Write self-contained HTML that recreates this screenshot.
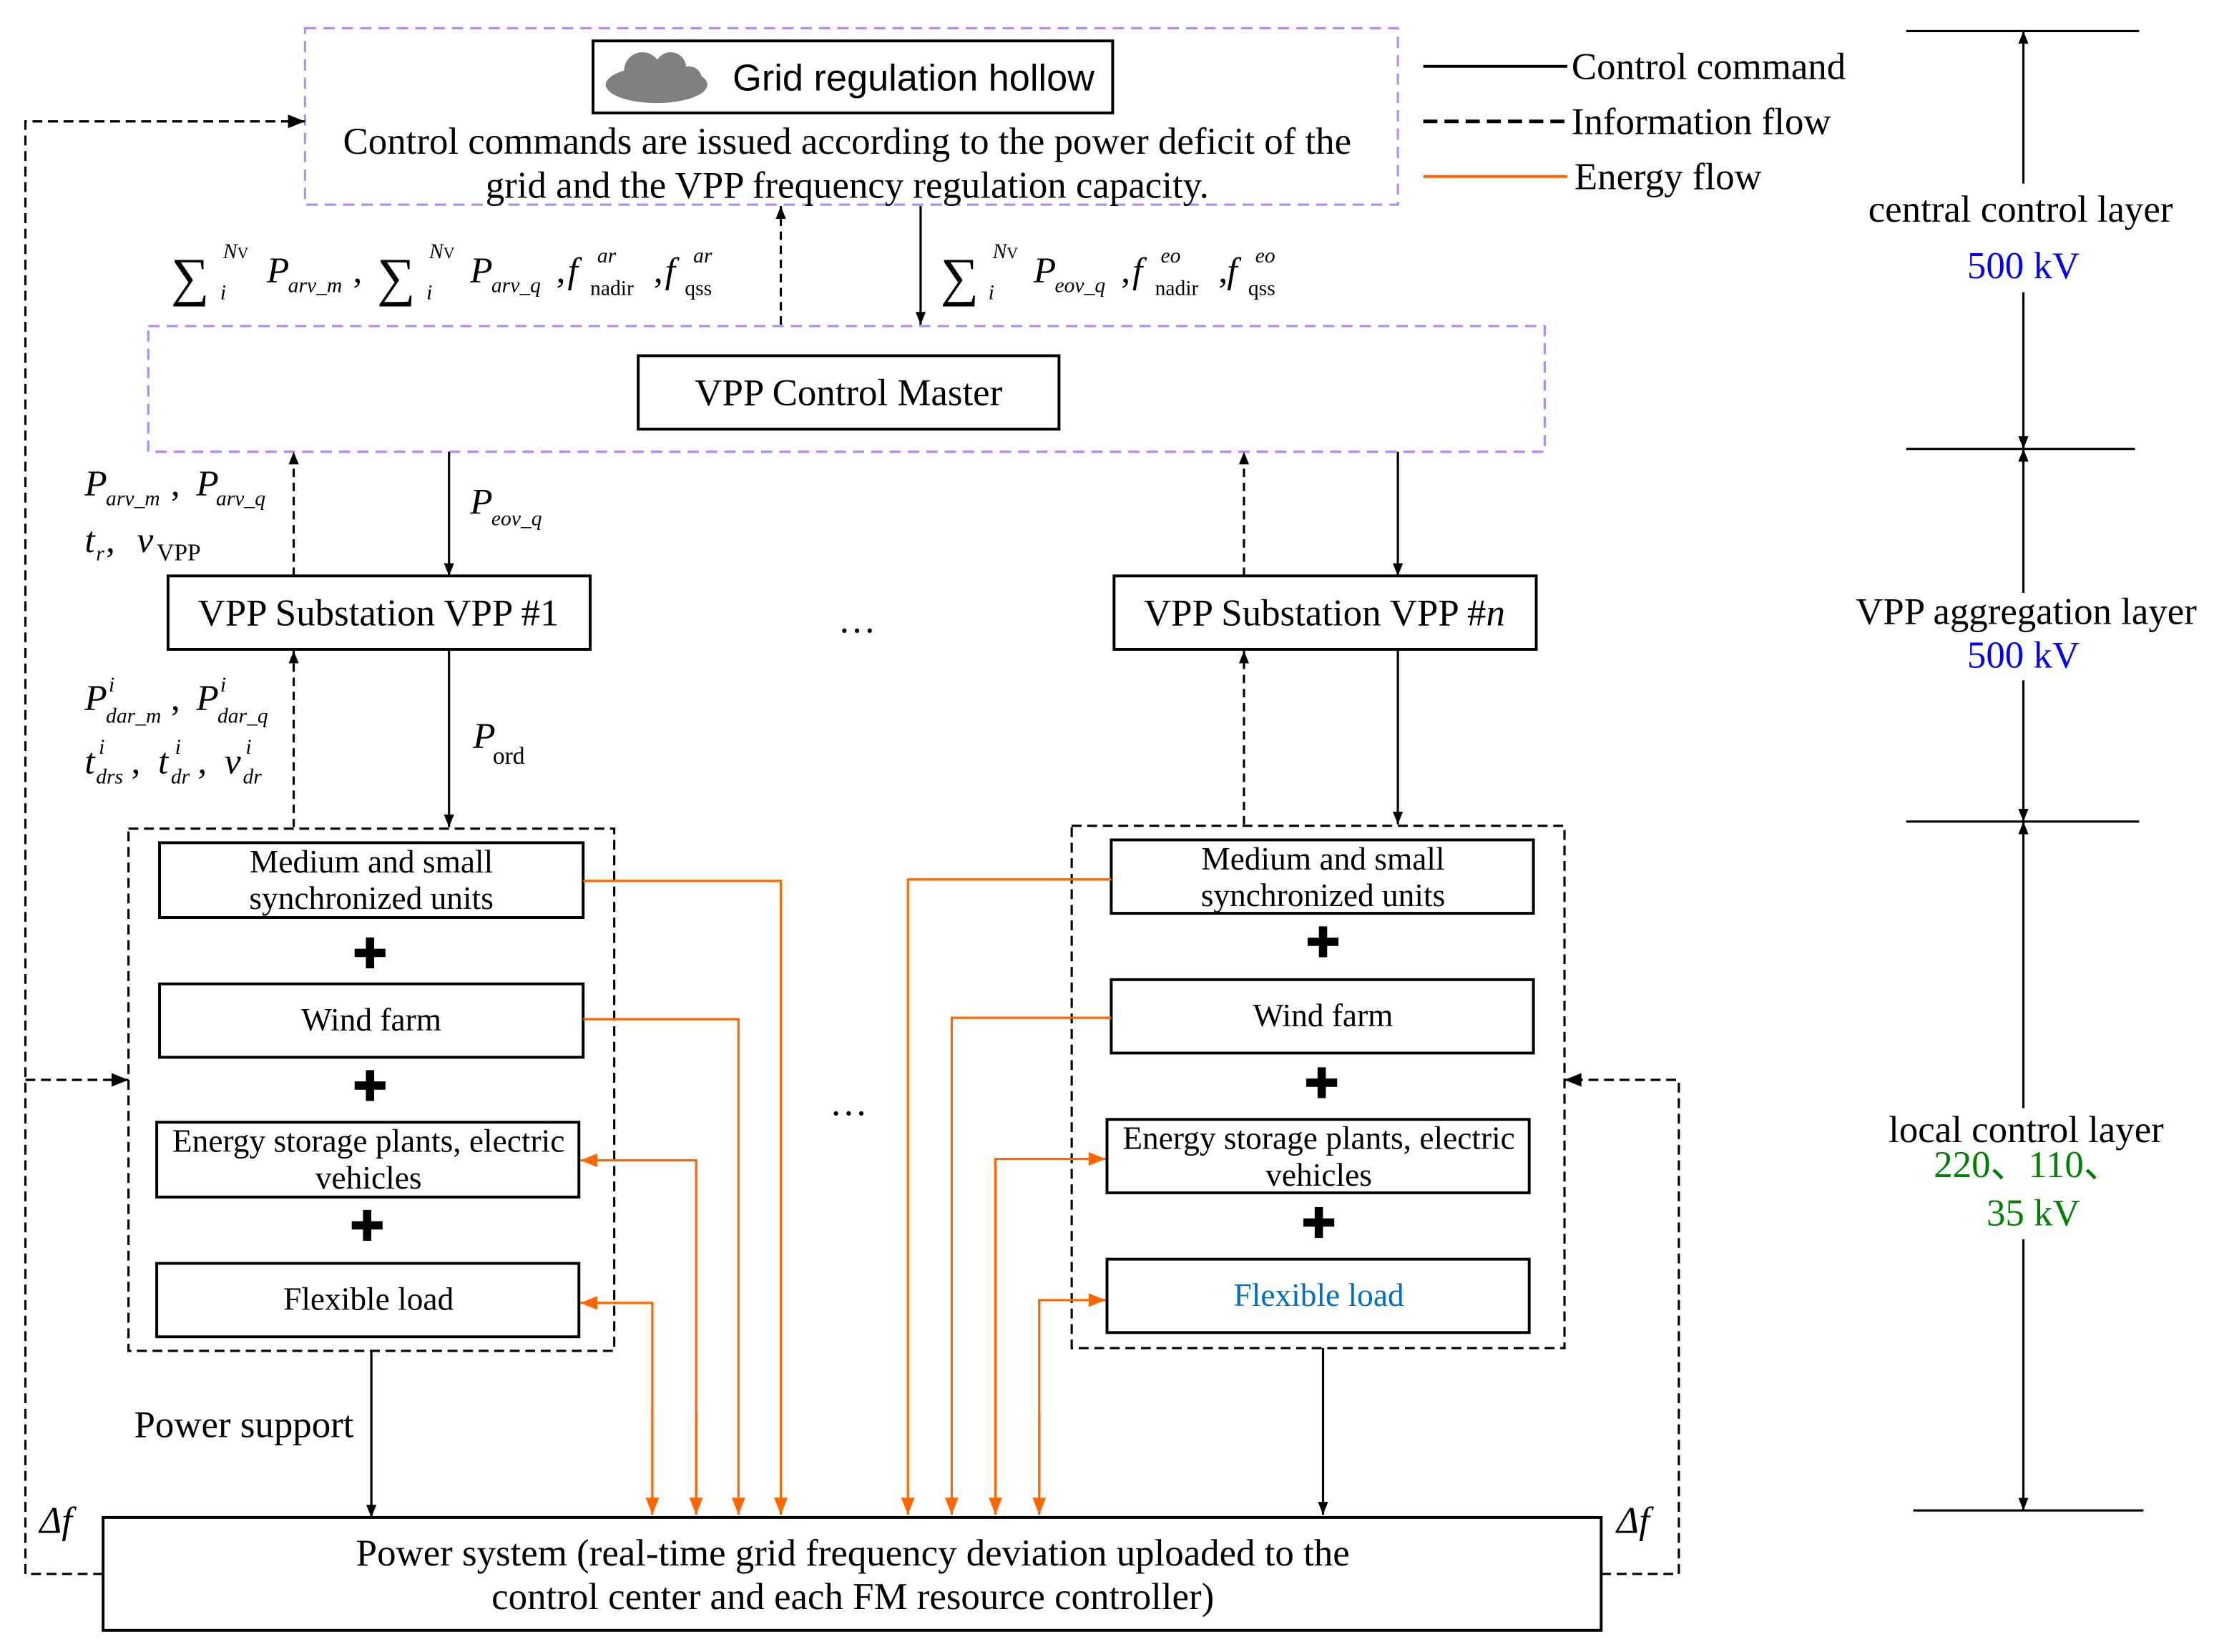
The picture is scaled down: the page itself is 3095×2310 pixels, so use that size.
<!DOCTYPE html>
<html><head><meta charset="utf-8"><style>
html,body{margin:0;padding:0;background:#fff;}
svg{display:block;}
text{font-family:"Liberation Serif","DejaVu Serif",serif;fill:#000;}
.i{font-style:italic;}
.s{font-size:15px;}
</style></head><body>
<svg width="3095" height="2310" viewBox="0 0 1568 1170.3" preserveAspectRatio="none" xmlns="http://www.w3.org/2000/svg">
<defs>
<marker id="a" viewBox="0 0 10 10" refX="10" refY="5" markerWidth="9" markerHeight="9" markerUnits="userSpaceOnUse" orient="auto"><path d="M0,1 L10,5 L0,9 z" fill="#000"/></marker>
<marker id="ab" viewBox="0 0 10 10" refX="10" refY="5" markerWidth="16" markerHeight="12" markerUnits="userSpaceOnUse" orient="auto"><path d="M0,1 L10,5 L0,9 z" fill="#000"/></marker>
<marker id="o" viewBox="0 0 10 10" refX="10" refY="5" markerWidth="14" markerHeight="12" markerUnits="userSpaceOnUse" orient="auto"><path d="M0,1 L10,5 L0,9 z" fill="#f60"/></marker>
</defs>
<g fill="none" stroke-width="1.6">
<rect x="216" y="20" width="774" height="125" stroke="#b48cf0" stroke-dasharray="8,5"/>
<rect x="105" y="231" width="989" height="89" stroke="#b48cf0" stroke-dasharray="8,5"/>
<g stroke="#000" stroke-width="2">
<rect x="420" y="29" width="368" height="51"/>
<rect x="452" y="252" width="298" height="52"/>
<rect x="119" y="408" width="299" height="52"/>
<rect x="789" y="408" width="299" height="52"/>
<rect x="113" y="597" width="300" height="53"/>
<rect x="113" y="697" width="300" height="52"/>
<rect x="111" y="795" width="299" height="53"/>
<rect x="111" y="895" width="299" height="52"/>
<rect x="787" y="595" width="299" height="52"/>
<rect x="787" y="694" width="299" height="52"/>
<rect x="784" y="793" width="299" height="52"/>
<rect x="784" y="892" width="299" height="52"/>
<rect x="73" y="1075" width="1061" height="80"/>
</g>
<g stroke="#000" stroke-dasharray="7,4">
<rect x="91" y="587" width="344" height="370"/>
<rect x="759" y="585" width="349" height="370"/>
</g>
<line x1="1008" y1="47" x2="1110" y2="47" stroke="#000" stroke-width="2"/>
<line x1="1008" y1="86" x2="1110" y2="86" stroke="#000" stroke-width="2.5" stroke-dasharray="10,5"/>
<line x1="1008" y1="125" x2="1110" y2="125" stroke="#f60" stroke-width="2"/>
<g stroke="#000" stroke-width="1.6">
<line x1="1350" y1="22" x2="1515" y2="22"/>
<line x1="1350" y1="318" x2="1512" y2="318"/>
<line x1="1350" y1="582" x2="1515" y2="582"/>
<line x1="1355" y1="1070" x2="1518" y2="1070"/>
<line x1="1433" y1="130" x2="1433" y2="22" marker-end="url(#a)"/>
<line x1="1433" y1="207" x2="1433" y2="318" marker-end="url(#a)"/>
<line x1="1433" y1="420" x2="1433" y2="318" marker-end="url(#a)"/>
<line x1="1433" y1="482" x2="1433" y2="582" marker-end="url(#a)"/>
<line x1="1433" y1="785" x2="1433" y2="582" marker-end="url(#a)"/>
<line x1="1433" y1="878" x2="1433" y2="1070" marker-end="url(#a)"/>
</g>
<g stroke="#000" stroke-width="1.6">
<line x1="553" y1="230" x2="553" y2="146" stroke-dasharray="6,4" marker-end="url(#a)"/>
<line x1="652" y1="146" x2="652" y2="230" marker-end="url(#a)"/>
<line x1="208" y1="408" x2="208" y2="320" stroke-dasharray="6,4" marker-end="url(#a)"/>
<line x1="318" y1="320" x2="318" y2="408" marker-end="url(#a)"/>
<line x1="881" y1="408" x2="881" y2="320" stroke-dasharray="6,4" marker-end="url(#a)"/>
<line x1="990" y1="320" x2="990" y2="408" marker-end="url(#a)"/>
<line x1="208" y1="586" x2="208" y2="461" stroke-dasharray="6,4" marker-end="url(#a)"/>
<line x1="318" y1="460" x2="318" y2="586" marker-end="url(#a)"/>
<line x1="881" y1="584" x2="881" y2="461" stroke-dasharray="6,4" marker-end="url(#a)"/>
<line x1="990" y1="460" x2="990" y2="584" marker-end="url(#a)"/>
<line x1="263" y1="957" x2="263" y2="1075" marker-end="url(#a)"/>
<line x1="937" y1="955" x2="937" y2="1073" marker-end="url(#a)"/>
<polyline points="73,1115 18,1115 18,86 216,86" stroke-dasharray="7,4" marker-end="url(#ab)"/>
<polyline points="18,765 91,765" stroke-dasharray="7,4" marker-end="url(#ab)"/>
<polyline points="1134,1115 1189,1115 1189,765 1108,765" stroke-dasharray="7,4" marker-end="url(#ab)"/>
</g>
<g stroke="#f60" stroke-width="1.6">
<polyline points="413,624 553,624 553,1073" marker-end="url(#o)"/>
<polyline points="413,722 523,722 523,1073" marker-end="url(#o)"/>
<polyline points="493,1073 493,822 411,822" marker-end="url(#o)"/>
<line x1="493" y1="1000" x2="493" y2="1073" marker-end="url(#o)"/>
<polyline points="462,1073 462,923 411,923" marker-end="url(#o)"/>
<line x1="462" y1="1000" x2="462" y2="1073" marker-end="url(#o)"/>
<polyline points="787,623 643,623 643,1073" marker-end="url(#o)"/>
<polyline points="787,721 674,721 674,1073" marker-end="url(#o)"/>
<polyline points="705,1073 705,821 783,821" marker-end="url(#o)"/>
<line x1="705" y1="1000" x2="705" y2="1073" marker-end="url(#o)"/>
<polyline points="736,1073 736,921 783,921" marker-end="url(#o)"/>
<line x1="736" y1="1000" x2="736" y2="1073" marker-end="url(#o)"/>
</g>
</g>
<g fill="#808080"><ellipse cx="465" cy="60" rx="36" ry="13"/><circle cx="455" cy="50" r="13"/><circle cx="475" cy="48" r="11"/><circle cx="488" cy="56" r="9"/></g>
<g font-size="30" text-anchor="middle">
<text x="262" y="686" style="font-family:'DejaVu Sans'">✚</text>
<text x="262" y="780" style="font-family:'DejaVu Sans'">✚</text>
<text x="260" y="879" style="font-family:'DejaVu Sans'">✚</text>
<text x="937" y="678" style="font-family:'DejaVu Sans'">✚</text>
<text x="936" y="778" style="font-family:'DejaVu Sans'">✚</text>
<text x="934" y="877" style="font-family:'DejaVu Sans'">✚</text>
</g>
<text x="647" y="64" font-size="26.5" text-anchor="middle" style="font-family:'Liberation Sans',sans-serif">Grid regulation hollow</text>
<g font-size="26.8" text-anchor="middle">
<text x="600" y="109">Control commands are issued according to the power deficit of the</text>
<text x="600" y="140">grid and the VPP frequency regulation capacity.</text>
<text x="601" y="287">VPP Control Master</text>
<text x="268" y="443">VPP Substation VPP #1</text>
<text x="938" y="443">VPP Substation VPP #<tspan class="i">n</tspan></text>
<text x="604" y="1109">Power system (real-time grid frequency deviation uploaded to the</text>
<text x="604" y="1140">control center and each FM resource controller)</text>
<text x="1431" y="157">central control layer</text>
<text x="1433" y="197" style="fill:#00f">500  kV</text>
<text x="1435" y="442">VPP aggregation layer</text>
<text x="1433" y="473" style="fill:#00f">500  kV</text>
<text x="1435" y="809">local control layer</text>
<text x="1436" y="834" style="fill:#008000">220、110、</text>
<text x="1440" y="868" style="fill:#008000">35  kV</text>
<text x="607" y="448">…</text>
<text x="601" y="790">…</text>
</g>
<g font-size="26.8">
<text x="1113" y="56">Control command</text>
<text x="1113" y="95">Information flow</text>
<text x="1115" y="134">Energy flow</text>
<text x="95" y="1018">Power support</text>
<text x="28" y="1086" class="i">Δf</text>
<text x="1145" y="1086" class="i">Δf</text>
</g>
<g font-size="23" text-anchor="middle">
<text x="263" y="618">Medium and small</text>
<text x="263" y="644">synchronized units</text>
<text x="263" y="730">Wind farm</text>
<text x="261" y="816">Energy storage plants, electric</text>
<text x="261" y="842">vehicles</text>
<text x="261" y="928">Flexible load</text>
<text x="937" y="616">Medium and small</text>
<text x="937" y="642">synchronized units</text>
<text x="937" y="727">Wind farm</text>
<text x="934" y="814">Energy storage plants, electric</text>
<text x="934" y="840">vehicles</text>
<text x="934" y="925" style="fill:#0070c0">Flexible load</text>
</g>
<g font-size="26">
<text x="121" y="209" font-size="38">∑</text>
<text x="158" y="183" class="i s">N<tspan font-size="11" style="font-style:normal">V</tspan></text>
<text x="156" y="212" class="i s">i</text>
<text x="189" y="200" class="i">P</text><text x="204" y="207" class="i s">arv_m</text>
<text x="250" y="200">,</text>
<text x="267" y="209" font-size="38">∑</text>
<text x="304" y="183" class="i s">N<tspan font-size="11" style="font-style:normal">V</tspan></text>
<text x="302" y="212" class="i s">i</text>
<text x="333" y="200" class="i">P</text><text x="348" y="207" class="i s">arv_q</text>
<text x="394" y="200">,</text>
<text x="402" y="200" class="i">f</text><text x="423" y="186" class="i s">ar</text><text x="418" y="209" class="s">nadir</text>
<text x="463" y="200">,</text>
<text x="471" y="200" class="i">f</text><text x="491" y="186" class="i s">ar</text><text x="485" y="209" class="s">qss</text>
<text x="666" y="209" font-size="38">∑</text>
<text x="703" y="183" class="i s">N<tspan font-size="11" style="font-style:normal">V</tspan></text>
<text x="700" y="212" class="i s">i</text>
<text x="732" y="200" class="i">P</text><text x="747" y="207" class="i s">eov_q</text>
<text x="794" y="200">,</text>
<text x="802" y="200" class="i">f</text><text x="822" y="186" class="i s">eo</text><text x="818" y="209" class="s">nadir</text>
<text x="863" y="200">,</text>
<text x="869" y="200" class="i">f</text><text x="889" y="186" class="i s">eo</text><text x="884" y="209" class="s">qss</text>
<text x="60" y="351" class="i">P</text><text x="75" y="358" class="i s">arv_m</text><text x="121" y="351">,</text>
<text x="139" y="351" class="i">P</text><text x="153" y="358" class="i s">arv_q</text>
<text x="60" y="391" class="i">t</text><text x="68" y="397" class="i s">r</text><text x="75" y="391">,</text>
<text x="97" y="391" class="i">v</text><text x="111" y="397" font-size="17">VPP</text>
<text x="333" y="364" class="i">P</text><text x="348" y="372" class="i s">eov_q</text>
<text x="60" y="503" class="i">P</text><text x="77" y="490" class="i s">i</text><text x="75" y="512" class="i s">dar_m</text><text x="121" y="503">,</text>
<text x="139" y="503" class="i">P</text><text x="156" y="490" class="i s">i</text><text x="154" y="512" class="i s">dar_q</text>
<text x="60" y="548" class="i">t</text><text x="70" y="534" class="i s">i</text><text x="68" y="555" class="i s">drs</text><text x="93" y="548">,</text>
<text x="112" y="548" class="i">t</text><text x="124" y="534" class="i s">i</text><text x="121" y="555" class="i s">dr</text><text x="140" y="548">,</text>
<text x="159" y="548" class="i">v</text><text x="174" y="534" class="i s">i</text><text x="172" y="555" class="i s">dr</text>
<text x="335" y="530" class="i">P</text><text x="349" y="541" font-size="17">ord</text>
</g>
</svg>
</body></html>
